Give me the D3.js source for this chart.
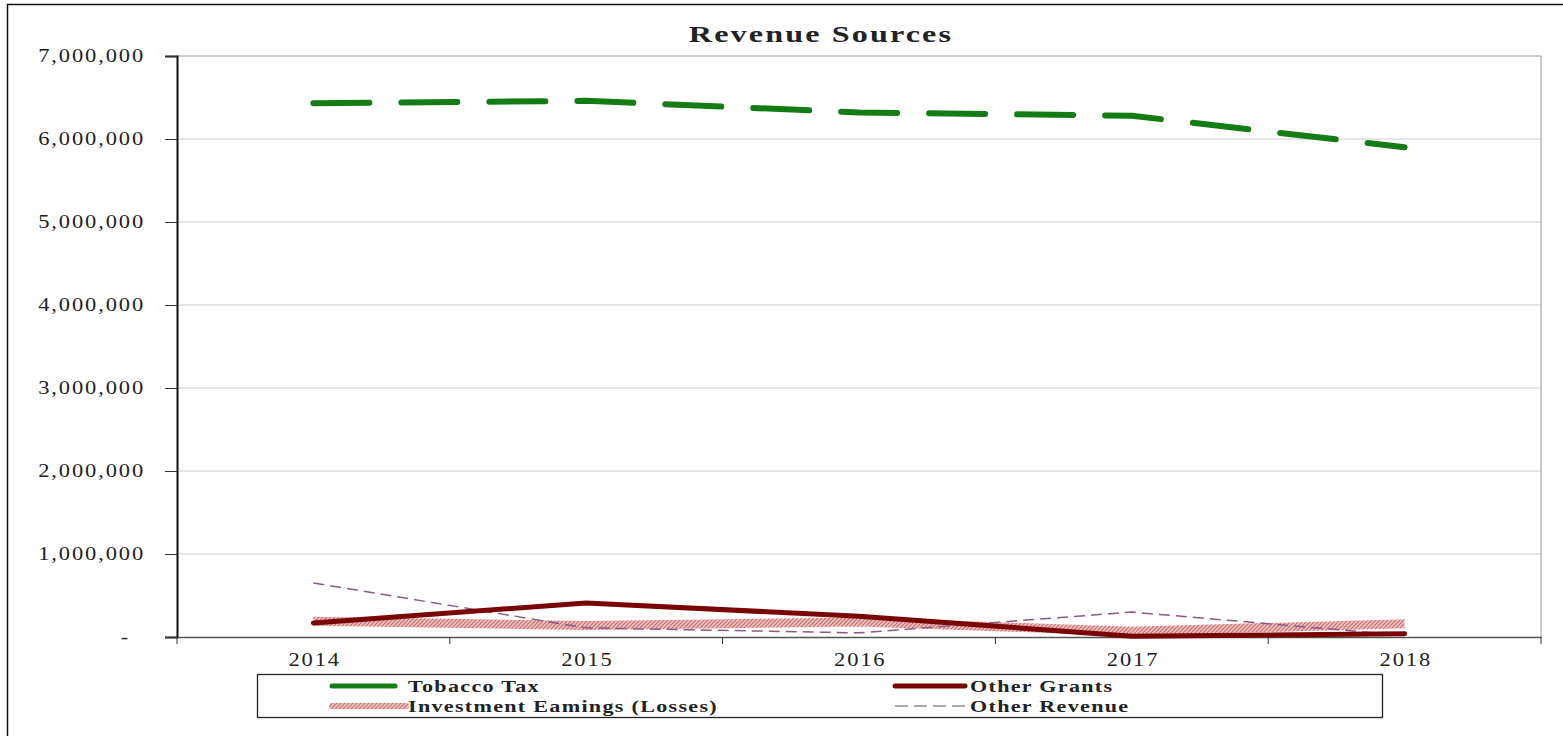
<!DOCTYPE html>
<html>
<head>
<meta charset="utf-8">
<script src="https://cdn.jsdelivr.net/npm/d3@7"></script>
<style>
  body { margin: 0; background: #fff; }
  text { font-family: "Liberation Serif", serif; fill: #222; }
</style>
</head>
<body>
<div id="chart-area"></div>
<script>
const years = ["2014", "2015", "2016", "2017", "2018"];
const tobaccoTax = [6430000, 6460000, 6320000, 6280000, 5900000];
const otherGrants = [170000, 410000, 250000, 10000, 40000];
const investmentEarnings = [190000, 140000, 180000, 70000, 160000];
const otherRevenue = [650000, 110000, 50000, 300000, 20000];
const yTicks = [0, 1000000, 2000000, 3000000, 4000000, 5000000, 6000000, 7000000];

const W = 1563, H = 736;
const plot = {left: 177, right: 1541, top: 56, bottom: 637};
const stretch = 1.25; // the reference text is drawn wide

const svg = d3.select("#chart-area").append("svg")
    .attr("width", W)
    .attr("height", H);

// hatched stroke for investment earnings
const pat = svg.append("defs").append("pattern")
    .attr("id", "hatch")
    .attr("patternUnits", "userSpaceOnUse")
    .attr("width", 4)
    .attr("height", 4);
pat.append("rect").attr("width", 4).attr("height", 4).attr("fill", "#ecc2c2");
pat.append("path").attr("d", "M-1,1 l2,-2 M0,4 l4,-4 M3,5 l2,-2")
    .attr("stroke", "#cc6d6d").attr("stroke-width", 1.2);

// outer frame (left and top visible)
svg.append("path")
    .attr("d", `M7.5,${H} V4.5 H${W}`)
    .attr("fill", "none")
    .attr("stroke", "#111")
    .attr("stroke-width", 1.5);

const x = d3.scaleBand().domain(years).range([plot.left, plot.right]).padding(0);
const y = d3.scaleLinear().domain([0, 7000000]).range([plot.bottom, plot.top]);

// gridlines
svg.append("g").selectAll("line").data(yTicks.slice(1)).enter().append("line")
    .attr("x1", plot.left).attr("x2", plot.right)
    .attr("y1", (d) => y(d)).attr("y2", (d) => y(d))
    .attr("stroke", (d) => d === 7000000 ? "#999" : "#cccccc")
    .attr("stroke-width", 1);

// right border
svg.append("line")
    .attr("x1", plot.right).attr("x2", plot.right)
    .attr("y1", plot.top).attr("y2", plot.bottom)
    .attr("stroke", "#999");

// y axis
const yAxisCall = d3.axisLeft(y).tickValues(yTicks).tickSize(12).tickPadding(22)
    .tickFormat((d) => d === 0 ? "-" : d3.format(",")(d));
const yAxisGroup = svg.append("g")
    .attr("transform", `translate(${plot.left},0)`)
    .call(yAxisCall);
yAxisGroup.select(".domain").attr("stroke", "#111").attr("stroke-width", 2);
yAxisGroup.selectAll(".tick line").attr("stroke", "#333");
yAxisGroup.selectAll(".tick text")
    .style("font-family", "Liberation Serif, serif")
    .style("font-size", "18px")
    .style("letter-spacing", "1.5px")
    .attr("fill", "#333")
    .attr("x", -32 / stretch)
    .attr("transform", `scale(${stretch},1)`);
yAxisGroup.selectAll(".tick").filter((d) => d === 0).select("text").attr("x", -47 / stretch);

// x axis (labels at band centres, ticks at band edges)
const xAxisCall = d3.axisBottom(x).tickSize(0).tickPadding(16);
const xAxisGroup = svg.append("g")
    .attr("transform", `translate(0,${plot.bottom})`)
    .call(xAxisCall);
xAxisGroup.select(".domain").attr("stroke", "#555").attr("stroke-width", 1.5);
xAxisGroup.selectAll(".tick text")
    .style("font-family", "Liberation Serif, serif")
    .style("font-size", "18px")
    .style("letter-spacing", "1.5px")
    .attr("x", 1)
    .attr("fill", "#333")
    .attr("transform", `scale(${stretch},1)`);

const edges = years.map((d) => x(d)).concat([x(years[years.length - 1]) + x.bandwidth()]);
xAxisGroup.selectAll("line.edge").data(edges).enter().append("line")
    .attr("class", "edge")
    .attr("x1", (d) => d).attr("x2", (d) => d)
    .attr("y1", 0).attr("y2", 7)
    .attr("stroke", "#333");

// title
svg.append("text")
    .attr("transform", "translate(821,42) scale(1.4,1)")
    .attr("text-anchor", "middle")
    .style("font-size", "23px")
    .style("font-weight", "bold")
    .style("letter-spacing", "1.5px")
    .attr("fill", "#111")
    .text("Revenue Sources");

const series = [
  {name: "Investment Eamings (Losses)", values: investmentEarnings, stroke: "url(#hatch)", width: 9, dash: null, cap: "butt"},
  {name: "Other Revenue", values: otherRevenue, stroke: "#8a5a88", width: 1.5, dash: "11,6", cap: "butt"},
  {name: "Other Grants", values: otherGrants, stroke: "#7a0505", width: 5, dash: null, cap: "round"},
  {name: "Tobacco Tax", values: tobaccoTax, stroke: "#147c14", width: 6, dash: "56,32", cap: "round"}
];

const line = d3.line()
    .x((d, i) => x(years[i]) + x.bandwidth() / 2)
    .y((d) => y(d));

svg.append("g").selectAll("path").data(series).enter().append("path")
    .attr("d", (s) => line(s.values))
    .attr("fill", "none")
    .attr("stroke", (s) => s.stroke)
    .attr("stroke-width", (s) => s.width)
    .attr("stroke-dasharray", (s) => s.dash)
    .attr("stroke-linecap", (s) => s.cap)
    .attr("stroke-linejoin", "round");

// legend
const legend = svg.append("g");
legend.append("rect")
    .attr("x", 257.5).attr("y", 674.5)
    .attr("width", 1125).attr("height", 43)
    .attr("fill", "#fff")
    .attr("stroke", "#222")
    .attr("stroke-width", 1.3);

const legendItems = [
  {s: series[3], lx: 332, lw: 63, tx: 408, ty: 686},
  {s: series[2], lx: 895, lw: 70, tx: 970, ty: 686},
  {s: series[0], lx: 332, lw: 74, tx: 408, ty: 706},
  {s: series[1], lx: 895, lw: 70, tx: 970, ty: 706}
];

const li = legend.selectAll("g.item").data(legendItems).enter().append("g").attr("class", "item");
li.append("line")
    .attr("x1", (d) => d.lx).attr("x2", (d) => d.lx + d.lw)
    .attr("y1", (d) => d.ty).attr("y2", (d) => d.ty)
    .attr("stroke", (d) => d.s.name === "Other Revenue" ? "#555" : d.s.stroke)
    .attr("stroke-width", (d) => d.s.name === "Other Revenue" ? 1.2 : (d.s.name === "Investment Eamings (Losses)" ? 6 : 5))
    .attr("stroke-dasharray", (d) => d.s.name === "Other Revenue" ? "13,6" : null)
    .attr("stroke-linecap", (d) => d.s.name === "Other Revenue" ? "butt" : "round");
li.append("text")
    .attr("transform", (d) => `translate(${d.tx},${d.ty}) scale(1.3,1)`)
    .attr("dy", "0.33em")
    .style("font-size", "17px")
    .style("font-weight", "bold")
    .style("letter-spacing", "1px")
    .attr("fill", "#111")
    .text((d) => d.s.name);
</script>
</body>
</html>
